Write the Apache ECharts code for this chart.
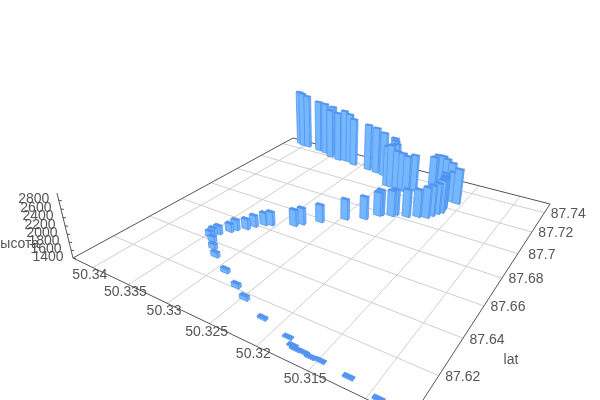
<!DOCTYPE html>
<html><head><meta charset="utf-8">
<style>html,body{margin:0;padding:0;background:#fff}#c{width:600px;height:400px}</style>
<script src="https://cdn.jsdelivr.net/npm/echarts@6/dist/echarts.min.js"></script>
</head><body><div id="c"></div>
<script>
// ---- data ----
var lons = [50.3410,50.3403,50.3395,50.3375,50.3363,50.3350,50.3352,50.3336,50.3328,50.3320,50.3311,50.3288,50.3275,50.3263,50.3248,50.3245,50.3241,50.3246,50.3241,50.3233,50.3225,50.3219,50.3213,50.3197,50.3194,50.3187,50.3180,50.3171,50.3157,50.3164,50.3168,50.3166,50.3165,50.3173,50.3170,50.3167,50.3164,50.3182,50.3192,50.3205,50.3207,50.3218,50.3220,50.3229,50.3246,50.3266,50.3280,50.3285,50.3307,50.3313,50.3320,50.3324,50.3332,50.3335,50.3342,50.3345,50.3345,50.3337,50.3327,50.3315,50.3289,50.3265,50.3247,50.3217,50.3185,50.3176,50.3172,50.3164,50.3157,50.3148,50.3121,50.3092];
var lats = [87.7464,87.745,87.745,87.744,87.743,87.740,87.744,87.739,87.740,87.740,87.738,87.737,87.736,87.735,87.7345,87.733,87.731,87.7256,87.7256,87.7253,87.7247,87.7251,87.7279,87.736,87.738,87.7374,87.7355,87.733,87.727,87.7274,87.7217,87.72,87.718,87.707,87.71,87.713,87.715,87.7057,87.703,87.702,87.70,87.698,87.697,87.691,87.686,87.678,87.672,87.669,87.664,87.6625,87.659,87.6555,87.6525,87.65,87.646,87.644,87.642,87.64,87.636,87.632,87.626,87.621,87.617,87.612,87.609,87.6065,87.6057,87.6058,87.6053,87.6056,87.6045,87.6018];
var heights = [3028,3034,2984,2906,2909,2821,2846,2809,2893,2830,2760,2715,2704,2638,2572,2538,2503,2524,2576,2459,2455,2397,2400,2267,2298,2322,2315,2306,2344,2212,2286,2255,2251,2211,2214,2217,2272,2132,2132,2082,2081,2082,2028,1996,1942,1860,1832,1830,1751,1724,1696,1668,1668,1614,1613,1586,1559,1531,1530,1528,1500,1497,1496,1447,1430,1430,1430,1430,1430,1430,1430,1430];
var lonTicks = ['50.31','50.315','50.32','50.325','50.33','50.335','50.34'];
var latTicks = ['87.62','87.64','87.66','87.68','87.7','87.72','87.74'];
var heightTicks = ['1400','1600','1800','2000','2200','2400','2600','2800'];
var latName = 'lat', heightName = 'высота';

// ---- the 3D box and its camera ----
var lonRange = [50.3065, 50.343], latRange = [87.60, 87.75], heightRange = [1400, 2965];
// projective camera: homogeneous columns for u (lon), v (lat), w (height) and origin
var cam = {ax:-305.8, bx:512.5, cx:-27.65, dx:410,
           ay:-51.7,  by:-77.8, cy:-108.9, dy:420,
           aw:0.4275, bw:0.6772, cw:-0.0838, dw:1};
var barDU = 0.024, barDV = 0.010;
var GRID='#cfcfcf', AXIS='#555', TEXT='#555', FONT='14px "Liberation Sans", Arial, sans-serif';
var FRONT='#76b8ff', SIDE='#70b3fd', TOP='#5593f2', EDGE='#4f90ec';

function U(v){return (v-lonRange[0])/(lonRange[1]-lonRange[0]);}
function V(v){return (v-latRange[0])/(latRange[1]-latRange[0]);}
function W(v){return (v-heightRange[0])/(heightRange[1]-heightRange[0]);}
function proj(u,v,w){
  var h=cam.aw*u+cam.bw*v+cam.cw*w+cam.dw;
  return [(cam.ax*u+cam.bx*v+cam.cx*w+cam.dx)/h,(cam.ay*u+cam.by*v+cam.cy*w+cam.dy)/h];
}
function line(a,b,color,width){
  return {type:'line',shape:{x1:a[0],y1:a[1],x2:b[0],y2:b[1]},style:{stroke:color,lineWidth:width||1},silent:true};
}
function text(s,p,dx,dy,font){
  return {type:'text',x:p[0]+dx,y:p[1]+dy,silent:true,style:{text:s,fill:TEXT,font:font||FONT,align:'center',verticalAlign:'middle'}};
}
function boxItems(){
  var c=[];
  lonTicks.forEach(function(t){var u=U(+t);c.push(line(proj(u,0,0),proj(u,1,0),GRID));});
  latTicks.forEach(function(t){var v=V(+t);c.push(line(proj(0,v,0),proj(1,v,0),GRID));});
  c.push(line(proj(1,0,0),proj(0,0,0),AXIS));
  c.push(line(proj(0,0,0),proj(0,1,0),AXIS));
  c.push(line(proj(0,1,0),proj(1,1,0),AXIS));
  c.push(line(proj(1,1,0),proj(1,0,0),AXIS));
  c.push(line(proj(1,0,0),proj(1,0,1),AXIS));
  heightTicks.forEach(function(t){
    var w=W(+t),p=proj(1,0,w);
    c.push(line(p,[p[0]+3,p[1]+0.5],AXIS));
    c.push(text(t,p,-25,-1));
  });
  lonTicks.forEach(function(t){ c.push(text(t,proj(U(+t),0,0),-3,8)); });
  latTicks.forEach(function(t){ c.push(text(t,proj(0,V(+t),0),24,1.5)); });
  c.push(text(latName,[511,360],0,0));
  c.push(text(heightName,[16,244],0,0));
  return c;
}
function poly(pts,fill){
  return {type:'polygon',shape:{points:pts},silent:true,style:{fill:fill,stroke:EDGE,lineWidth:0.7,lineJoin:'round'}};
}
var order = lons.map(function(_,i){return i;}).sort(function(p,q){
  var dp=cam.aw*U(lons[p])+cam.bw*V(lats[p]), dq=cam.aw*U(lons[q])+cam.bw*V(lats[q]);
  return dq-dp;
});
var chart = echarts.init(document.getElementById('c'),null,{renderer:'canvas',width:600,height:400});
chart.setOption({
  animation:false,
  backgroundColor:'#fff',
  series:[
    {type:'custom',coordinateSystem:'none',silent:true,z:1,data:[0],
     renderItem:function(){return {type:'group',children:boxItems()};}},
    {type:'custom',coordinateSystem:'none',silent:true,z:2,
     data:order.map(function(i){return [lons[i],lats[i],heights[i]];}),
     renderItem:function(p,api){
       var u=U(api.value(0)),v=V(api.value(1)),w=W(api.value(2));
       var u0=u-barDU/2,u1=u+barDU/2,v0=v-barDV/2,v1=v+barDV/2;
       return {type:'group',children:[
         poly([proj(u1,v0,0),proj(u0,v0,0),proj(u0,v0,w),proj(u1,v0,w)],FRONT),
         poly([proj(u0,v0,0),proj(u0,v1,0),proj(u0,v1,w),proj(u0,v0,w)],SIDE),
         poly([proj(u1,v0,w),proj(u0,v0,w),proj(u0,v1,w),proj(u1,v1,w)],TOP)
       ]};
     }}
  ]
});
</script></body></html>
